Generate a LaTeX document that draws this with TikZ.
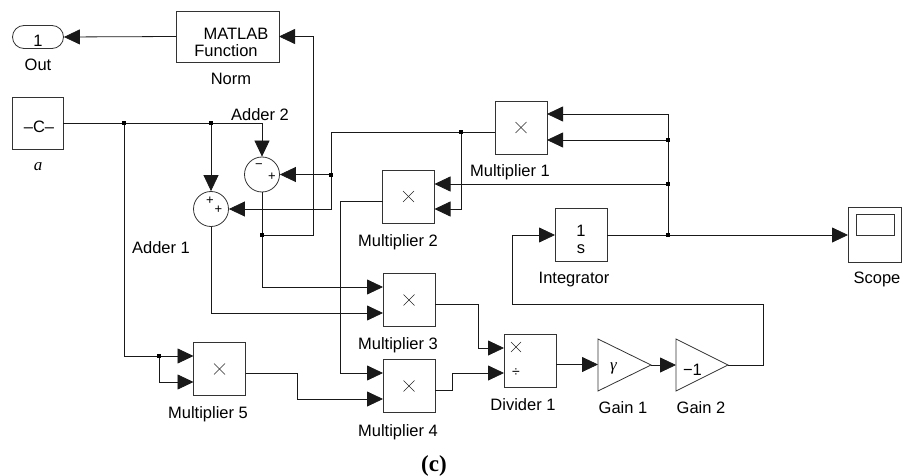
\documentclass[tikz,border=0pt]{standalone}
\usepackage{fontspec}
\setmainfont{Liberation Sans}
\newfontfamily\seriffam{Liberation Serif}
\usetikzlibrary{arrows.meta}
\begin{document}
\begin{tikzpicture}[x=1pt,y=-1pt,
  blk/.style={draw=black!80, line width=0.8pt, inner sep=0pt, outer sep=0pt, minimum width=52pt, minimum height=53pt},
  blkline/.style={draw=black!80, line width=0.8pt},
  wire/.style={draw=black!90, line width=0.8pt},
  arr/.style={wire, -{Triangle[length=16pt,width=15pt]}},
  lbl/.style={font=\fontsize{16.5}{19}\selectfont, inner sep=0pt, anchor=base},
  sgn/.style={font=\fontsize{13}{14}\selectfont, inner sep=0pt},
  jdot/.style={fill=black, draw=none, minimum size=4pt, inner sep=0pt, rectangle},
  crossmark/.style={draw=black!85, line width=0.6pt}
]
\useasboundingbox (0,0) rectangle (913,476);

% ---------- blocks ----------
\node[draw=black!80, line width=0.8pt, rounded corners=11.5pt, minimum width=51pt, minimum height=23pt, inner sep=0pt] (out) at (38,37) {};
\node[lbl] (outnum) at (38,46.5) {1};
\node[lbl] (outlbl) at (38,70.5) {Out};

\node[blk, minimum width=103pt, minimum height=51pt] (norm) at (227.5,36.5) {};
\node[lbl] (normt1) at (236,39.5) {MATLAB};
\node[lbl] (normt2) at (226,56.5) {Function};
\node[lbl] (normlbl) at (231,85) {Norm};

\node[blk, minimum width=51pt, minimum height=52pt] (const) at (37.5,123) {};
\node[lbl] (constt) at (39,133) {–C–};
\node[lbl, font=\seriffam\itshape\fontsize{17}{19}\selectfont] (constlbl) at (38,171) {a};

\node[circle, draw=black!80, line width=0.8pt, minimum size=35pt, inner sep=0pt] (add2) at (262,174.5) {};
\node[sgn] (add2s1) at (259,166) {−};
\node[sgn] (add2s2) at (272,177) {+};
\node[lbl] (add2lbl) at (260,120.5) {Adder 2};

\node[circle, draw=black!80, line width=0.8pt, minimum size=35pt, inner sep=0pt] (add1) at (211,209) {};
\node[sgn] (add1s1) at (210,201) {+};
\node[sgn] (add1s2) at (218.5,210) {+};
\node[lbl] (add1lbl) at (161,253) {Adder 1};

\node[blk] (m1) at (521,127.5) {};
\node[lbl] (m1lbl) at (510,176.5) {Multiplier 1};
\node[blk] (m2) at (408.5,196.5) {};
\node[lbl] (m2lbl) at (398,246.5) {Multiplier 2};
\node[blk] (m3) at (409,300) {};
\node[lbl] (m3lbl) at (398,349) {Multiplier 3};
\node[blk] (m4) at (409,386) {};
\node[lbl] (m4lbl) at (398,436) {Multiplier 4};
\node[blk] (m5) at (219.5,369) {};
\node[lbl] (m5lbl) at (208,418) {Multiplier 5};
\foreach \b in {m1,m2,m3,m4,m5}{
  \draw[crossmark] ([shift={(-5.5,-5.5)}]\b.center) -- ([shift={(5.5,5.5)}]\b.center);
  \draw[crossmark] ([shift={(-5.5,5.5)}]\b.center) -- ([shift={(5.5,-5.5)}]\b.center);
}

\node[blk] (div) at (530,360.5) {};
\draw[crossmark] (511,342) -- (521,352);
\draw[crossmark] (511,352) -- (521,342);
\node[sgn, font=\fontsize{14}{15}\selectfont] (divs) at (516,373) {÷};
\node[lbl] (divlbl) at (523,410) {Divider 1};

\draw[blkline] (598,339) -- (598,391) -- (651,365) -- cycle;
\node[inner sep=0pt, font=\seriffam\itshape\fontsize{17}{19}\selectfont, anchor=base] (g1t) at (613.5,370) {γ};
\node[lbl] (g1lbl) at (623,413) {Gain 1};
\draw[blkline] (676,339) -- (676,391) -- (728,365) -- cycle;
\node[lbl] (g2t) at (692.5,375) {−1};
\node[lbl] (g2lbl) at (701,413) {Gain 2};

\node[blk] (integ) at (581,235) {};
\node[lbl] (integt1) at (581,236) {1};
\node[lbl] (integt2) at (581,253) {s};
\node[lbl] (integlbl) at (574,283) {Integrator};

\node[blk, minimum width=53pt, minimum height=55pt] (scope) at (874.5,234.5) {};
\draw[blkline] (856,214) rectangle (894,235);
\node[lbl] (scopelbl) at (877,283) {Scope};

\node[inner sep=0pt, anchor=base, font=\seriffam\bfseries\fontsize{23}{26}\selectfont] (cap) at (434,471) {(c)};

% ---------- ports and junctions ----------
\coordinate (g1in) at (598,364.5);
\coordinate (g1out) at (651,365);
\coordinate (g2in) at (676,365);
\coordinate (g2out) at (728,365);

\coordinate (jC1) at (124,123);
\coordinate (jC2) at (211,123);
\coordinate (jA2) at (262,235);
\coordinate (jM1a) at (461,132);
\coordinate (jM1b) at (331,174.5);
\coordinate (jF1) at (668,140);
\coordinate (jF2) at (668,184);
\coordinate (jF3) at (668,235);
\coordinate (jM5) at (159,356);

% ---------- connectors ----------
\draw[arr] (norm.west) -- (out.east);
\draw[arr] (jA2) -- (313,235) -- (313,36.5) -- (norm.east);
\draw[arr] (const.east) -| (add2.north);
\draw[arr] (jC2) -- (add1.north);
\draw[arr] (jC1) |- (m5.west |- 0,356);
\draw[arr] (jM5) |- (m5.west |- 0,382);
\draw[arr] (m1.west |- 0,132) -| (331,209) -- (add1.east);
\draw[arr] (jM1b) -- (add2.east);
\draw[arr] (jM1a) |- (m2.east |- 0,209);
\draw[arr] (jF3) |- (m1.east |- 0,114);
\draw[arr] (jF1) -- (m1.east |- 0,140);
\draw[arr] (jF2) -- (m2.east |- 0,184);
\draw[arr] (integ.east) -- (scope.west |- 0,235);
\draw[arr] (m2.west |- 0,201) -| (340,373) -- (m4.west |- 0,373);
\draw[arr] (add2.south) |- (m3.west |- 0,287);
\draw[arr] (add1.south) |- (m3.west |- 0,313);
\draw[arr] (m5.east |- 0,373) -| (297,399) -- (m4.west |- 0,399);
\draw[arr] (m3.east |- 0,304) -| (478,348) -- (div.west |- 0,348);
\draw[arr] (m4.east |- 0,390) -| (452,373) -- (div.west |- 0,373);
\draw[arr] (div.east |- 0,364.5) -- (g1in);
\draw[arr] (g1out) -- (g2in);
\draw[arr] (g2out) -| (763,304) -| (512,235) -- (integ.west);

\foreach \j in {jC1,jC2,jA2,jM1a,jM1b,jF1,jF2,jF3,jM5}{
  \node[jdot] at (\j) {};
}
\end{tikzpicture}
\end{document}
